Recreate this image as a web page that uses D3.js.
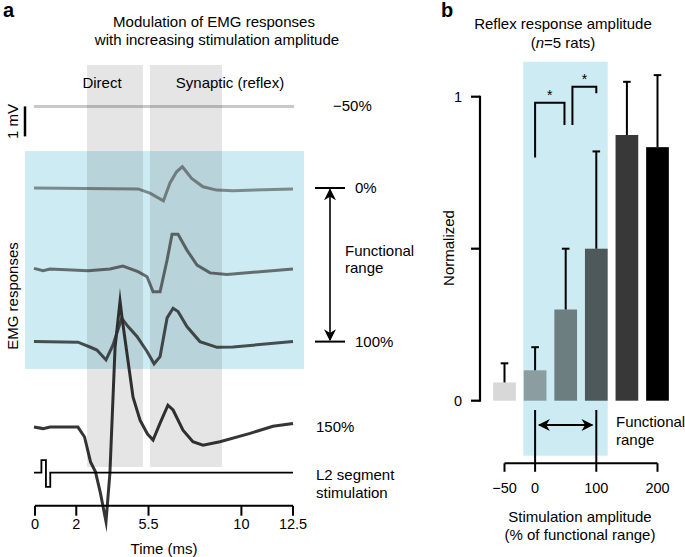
<!DOCTYPE html>
<html>
<head>
<meta charset="utf-8">
<script src="https://cdn.jsdelivr.net/npm/d3@7"></script>
<style>
  body { margin: 0; background: #fff; }
  svg { font-family: "Liberation Sans", Arial, sans-serif; }
</style>
</head>
<body>
<script>
// ---- panel a data: EMG traces (time in ms, voltage in mV, relative to each trace baseline)
var timeTicks = [0, 2, 5.5, 10, 12.5];
var directWindow = [2.52, 5.23];
var synapticWindow = [5.57, 9.06];

var traceLabels = ["\u221250%", "0%", "", "100%", "150%"];
var traceOffsets = [13.12, 10.4, 7.72, 5.28, 2.43];   // stacking offsets (mV)
var traceColors = ["#c9c9c9", "#7d8a8c", "#636e70", "#464e50", "#353535"];

var traceTimes = [
  [-0.05, 12.55],
  [-0.05, 4.99, 5.57, 6.22, 6.54, 6.86, 7.14, 7.59, 8.14, 8.80, 9.59, 12.5],
  [-0.05, 0.39, 0.73, 2.57, 3.63, 4.26, 4.99, 5.43, 5.72, 6.06, 6.40, 6.64, 6.93, 7.36, 7.85, 8.48, 9.30, 12.5],
  [-0.05, 2.08, 2.66, 3.0, 3.44, 3.78, 4.20, 4.51, 4.94, 5.43, 5.77, 6.06, 6.40, 6.69, 6.93, 7.36, 7.99, 8.82, 9.59, 12.5],
  [-0.05, 0.39, 0.73, 2.08, 2.40, 2.69, 2.93, 3.17, 3.44, 3.63, 3.88, 4.12, 4.22, 4.75, 5.09, 5.45, 5.72, 6.06, 6.44, 6.69, 7.17, 7.65, 8.14, 8.96, 10.42, 11.53, 12.5]
];
var traceValues = [
  [0, 0],
  [0, -0.03, -0.17, -0.43, 0.17, 0.54, 0.71, 0.32, 0.04, -0.07, -0.09, -0.03],
  [0, -0.08, -0.02, -0.08, -0.02, 0.08, -0.11, -0.28, -0.78, -0.78, 0.28, 1.14, 1.14, 0.61, 0.11, -0.15, -0.2, -0.02],
  [0, -0.02, -0.18, -0.28, -0.61, -0.11, 0.78, 0.5, 0.17, -0.33, -0.74, -0.5, 0.79, 1.11, 1.0, 0.5, 0, -0.19, -0.18, 0],
  [0, -0.05, 0, 0, -0.33, -1.16, -1.49, -2.2, -3.15, -1.53, 2.67, 4.2, 3.63, 1.0, 0.23, -0.23, -0.43, 0.13, 0.73, 0.57, -0.1, -0.49, -0.6, -0.49, -0.21, 0.03, 0.12]
];

// stimulation pulse
var stimOffset = 0.91;
var stimTimes = [-0.05, 0.31, 0.31, 0.53, 0.53, 0.74, 0.74, 12.5];
var stimValues = [0, 0, 0.42, 0.42, -0.47, -0.47, 0, 0];

// ---- panel b data
var amplitudes = [-50, 0, 50, 100, 150, 200];
var reflexMeans = [0.06, 0.10, 0.30, 0.50, 0.874, 0.834];
var reflexErrors = [0.063, 0.076, 0.20, 0.32, 0.175, 0.237];
var barColors = ["#d8d8d8", "#8b9da1", "#6d7e81", "#4d595b", "#383838", "#000000"];
var ampTicks = [-50, 0, 100, 200];
var normTicks = [0, 0.5, 1];
var normLabels = {0: "0", 1: "1"};
// significance brackets: [x left, x right, left leg bottom, top, right leg bottom]
var sigBrackets = [
  [0, 48, 0.80, 0.98, 0.907],
  [61, 100, 0.907, 1.033, 1.011]
];

var svg = d3.select("body").append("svg")
    .attr("width", 685)
    .attr("height", 557);

// ================= panel a =================
var x = d3.scaleLinear().domain([0, 12.5]).range([35, 293]);
var y = d3.scaleLinear().domain([0, 1]).range([500, 470]);   // 30 px per mV

var a = svg.append("g");

a.append("text").attr("x", 3).attr("y", 17)
    .style("font-size", "20px").style("font-weight", "bold").text("a");
a.append("text").attr("x", 214).attr("y", 27).attr("text-anchor", "middle")
    .style("font-size", "15px").text("Modulation of EMG responses");
a.append("text").attr("x", 217).attr("y", 45).attr("text-anchor", "middle")
    .style("font-size", "15px").text("with increasing stimulation amplitude");

// blue functional range box
a.append("rect")
    .attr("x", x(-0.48)).attr("y", y(11.63))
    .attr("width", x(13.03) - x(-0.48)).attr("height", y(4.37) - y(11.63))
    .attr("fill", "#cdebf2");

var line = d3.line()
    .x(function(d) { return x(d[0]); })
    .y(function(d) { return y(d[1]); });

for (var i = 0; i < traceTimes.length; i++) {
    var pts = traceTimes[i].map(function(t, j) { return [t, traceValues[i][j] + traceOffsets[i]]; });
    a.append("path")
        .attr("d", line(pts))
        .attr("fill", "none")
        .attr("stroke", traceColors[i])
        .attr("stroke-width", 3)
        .attr("stroke-linejoin", "miter")
        .attr("stroke-miterlimit", 10);
}

// stimulation trace
a.append("path")
    .attr("d", line(stimTimes.map(function(t, j) { return [t, stimValues[j] + stimOffset]; })))
    .attr("fill", "none")
    .attr("stroke", "#000")
    .attr("stroke-width", 1.8);

// gray windows drawn over traces
[directWindow, synapticWindow].forEach(function(w) {
    a.append("rect")
        .attr("x", x(w[0])).attr("y", y(14.5))
        .attr("width", x(w[1]) - x(w[0])).attr("height", y(1.1) - y(14.5))
        .attr("fill", "#000").attr("fill-opacity", 0.1);
});
a.append("text").attr("x", 102).attr("y", 88)
    .attr("text-anchor", "middle").style("font-size", "15px").text("Direct");
a.append("text").attr("x", 230).attr("y", 88)
    .attr("text-anchor", "middle").style("font-size", "15px").text("Synaptic (reflex)");

// trace labels
var labelX = [333, 355, 0, 355, 316];
for (var k = 0; k < traceLabels.length; k++) {
    if (!traceLabels[k]) continue;
    a.append("text").attr("x", labelX[k]).attr("y", y(traceOffsets[k]) + 5)
        .style("font-size", "15px").text(traceLabels[k]);
}
a.append("text").attr("x", 316).attr("y", 480).style("font-size", "15px").text("L2 segment");
a.append("text").attr("x", 316).attr("y", 498).style("font-size", "15px").text("stimulation");

// 1 mV scale bar
a.append("line")
    .attr("x1", 25).attr("x2", 25)
    .attr("y1", y(traceOffsets[0])).attr("y2", y(traceOffsets[0] - 1))
    .attr("stroke", "#000").attr("stroke-width", 2.5);
a.append("text")
    .attr("transform", "translate(18," + (y(traceOffsets[0] - 0.5)) + ") rotate(-90)")
    .attr("text-anchor", "middle").style("font-size", "15px").text("1 mV");
a.append("text")
    .attr("transform", "translate(18,296) rotate(-90)")
    .attr("text-anchor", "middle").style("font-size", "15px").text("EMG responses");

// functional range bracket
var defs = svg.append("defs");
defs.append("marker").attr("id", "arrB").attr("viewBox", "0 0 10 10")
    .attr("refX", 9).attr("refY", 5).attr("markerWidth", 14).attr("markerHeight", 12)
    .attr("markerUnits", "userSpaceOnUse").attr("orient", "auto-start-reverse")
    .append("path").attr("d", "M0,0L10,5L0,10L3,5Z").attr("fill", "#000");

var yTop = y(traceOffsets[1]), yBot = y(traceOffsets[3]);
[yTop, yBot].forEach(function(yy) {
    a.append("line").attr("x1", 315).attr("x2", 345).attr("y1", yy).attr("y2", yy)
        .attr("stroke", "#000").attr("stroke-width", 2);
});
a.append("line").attr("x1", 330).attr("x2", 330).attr("y1", yTop + 1.5).attr("y2", yBot - 1.5)
    .attr("stroke", "#000").attr("stroke-width", 1.6)
    .attr("marker-start", "url(#arrB)").attr("marker-end", "url(#arrB)");
a.append("text").attr("x", 345).attr("y", 256).style("font-size", "15px").text("Functional");
a.append("text").attr("x", 345).attr("y", 273).style("font-size", "15px").text("range");

// time axis
var axY = 505.7;
a.append("line").attr("x1", x(0)).attr("x2", x(12.5)).attr("y1", axY).attr("y2", axY)
    .attr("stroke", "#000").attr("stroke-width", 2);
timeTicks.forEach(function(t) {
    a.append("line").attr("x1", x(t)).attr("x2", x(t)).attr("y1", axY).attr("y2", axY + 10)
        .attr("stroke", "#000").attr("stroke-width", 2);
    a.append("text").attr("x", x(t)).attr("y", 529).attr("text-anchor", "middle")
        .style("font-size", "14.5px").text(t);
});
a.append("text").attr("x", 164).attr("y", 554).attr("text-anchor", "middle")
    .style("font-size", "15px").text("Time (ms)");

// ================= panel b =================
var xB = d3.scaleLinear().domain([-50, 200]).range([504.5, 657.5]);
var yB = d3.scaleLinear().domain([0, 1]).range([400.7, 96.7]);
var barW = 22.7;
var b = svg.append("g");

b.append("text").attr("x", 441).attr("y", 17)
    .style("font-size", "20px").style("font-weight", "bold").text("b");
b.append("text").attr("x", 563).attr("y", 29).attr("text-anchor", "middle")
    .style("font-size", "15px").text("Reflex response amplitude");
var sub = b.append("text").attr("x", 563).attr("y", 48).attr("text-anchor", "middle")
    .style("font-size", "15px");
sub.append("tspan").text("(");
sub.append("tspan").style("font-style", "italic").text("n");
sub.append("tspan").text("=5 rats)");

b.append("rect")
    .attr("x", 523.3).attr("y", 61.7)
    .attr("width", 607.7 - 523.3).attr("height", 455.7 - 61.7)
    .attr("fill", "#cdebf2");

b.selectAll(".bar").data(amplitudes).enter().append("rect")
    .attr("class", "bar")
    .attr("x", function(d) { return xB(d) - barW / 2; })
    .attr("y", function(d, i) { return yB(reflexMeans[i]); })
    .attr("width", barW)
    .attr("height", function(d, i) { return yB(0) - yB(reflexMeans[i]); })
    .attr("fill", function(d, i) { return barColors[i]; });

amplitudes.forEach(function(d, i) {
    var top = yB(reflexMeans[i] + reflexErrors[i]);
    b.append("line").attr("x1", xB(d)).attr("x2", xB(d))
        .attr("y1", yB(reflexMeans[i])).attr("y2", top)
        .attr("stroke", "#000").attr("stroke-width", 2);
    b.append("line").attr("x1", xB(d) - 3.8).attr("x2", xB(d) + 3.8)
        .attr("y1", top).attr("y2", top)
        .attr("stroke", "#000").attr("stroke-width", 2);
});

sigBrackets.forEach(function(s) {
    b.append("path")
        .attr("d", "M" + xB(s[0]) + "," + yB(s[2]) + "V" + yB(s[3]) + "H" + xB(s[1]) + "V" + yB(s[4]))
        .attr("fill", "none").attr("stroke", "#000").attr("stroke-width", 2);
    b.append("text").attr("x", (xB(s[0]) + xB(s[1])) / 2).attr("y", yB(s[3]) - 3)
        .attr("text-anchor", "middle").style("font-size", "14px").text("*");
});

// y axis
b.append("line").attr("x1", 480).attr("x2", 480).attr("y1", yB(1) - 1).attr("y2", yB(0) + 1)
    .attr("stroke", "#000").attr("stroke-width", 2.2);
normTicks.forEach(function(v) {
    b.append("line").attr("x1", 471).attr("x2", 480).attr("y1", yB(v)).attr("y2", yB(v))
        .attr("stroke", "#000").attr("stroke-width", 2.2);
    if (normLabels[v] !== undefined)
        b.append("text").attr("x", 462).attr("y", yB(v) + 5).attr("text-anchor", "end")
            .style("font-size", "14.5px").text(normLabels[v]);
});
b.append("text")
    .attr("transform", "translate(454,248) rotate(-90)")
    .attr("text-anchor", "middle").style("font-size", "15px").text("Normalized");

// functional range markers
[0, 100].forEach(function(v) {
    b.append("line").attr("x1", xB(v)).attr("x2", xB(v)).attr("y1", 410).attr("y2", 463.3)
        .attr("stroke", "#000").attr("stroke-width", 2);
});
b.append("line").attr("x1", xB(0) + 4).attr("x2", xB(100) - 4).attr("y1", 425).attr("y2", 425)
    .attr("stroke", "#000").attr("stroke-width", 2)
    .attr("marker-start", "url(#arrB)").attr("marker-end", "url(#arrB)");
b.append("text").attr("x", 616).attr("y", 427).style("font-size", "15px").text("Functional");
b.append("text").attr("x", 616).attr("y", 445).style("font-size", "15px").text("range");

// x axis
var bxY = 463.3;
b.append("line").attr("x1", xB(-50)).attr("x2", xB(200)).attr("y1", bxY).attr("y2", bxY)
    .attr("stroke", "#000").attr("stroke-width", 2);
ampTicks.forEach(function(v) {
    b.append("line").attr("x1", xB(v)).attr("x2", xB(v)).attr("y1", bxY).attr("y2", bxY + 8.5)
        .attr("stroke", "#000").attr("stroke-width", 2);
    b.append("text").attr("x", xB(v)).attr("y", 493).attr("text-anchor", "middle")
        .style("font-size", "14.5px").text(v < 0 ? "\u2212" + Math.abs(v) : v);
});
b.append("text").attr("x", 580).attr("y", 522).attr("text-anchor", "middle")
    .style("font-size", "15px").text("Stimulation amplitude");
b.append("text").attr("x", 580).attr("y", 540).attr("text-anchor", "middle")
    .style("font-size", "15px").text("(% of functional range)");
</script>
</body>
</html>
